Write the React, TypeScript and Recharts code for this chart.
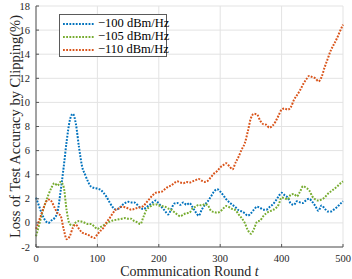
import React from "react";
import { LineChart, Line, XAxis, YAxis, CartesianGrid, Label } from "recharts";

const rounds = [
  0, 5, 10, 15, 20, 25, 30, 35, 40, 45, 50, 55, 60, 65, 70, 75, 80, 85, 90, 95,
  100, 105, 110, 115, 120, 125, 130, 135, 140, 145, 150, 155, 160, 165, 170, 175, 180, 185, 190, 195,
  200, 205, 210, 215, 220, 225, 230, 235, 240, 245, 250, 255, 260, 265, 270, 275, 280, 285, 290, 295,
  300, 305, 310, 315, 320, 325, 330, 335, 340, 345, 350, 355, 360, 365, 370, 375, 380, 385, 390, 395,
  400, 405, 410, 415, 420, 425, 430, 435, 440, 445, 450, 455, 460, 465, 470, 475, 480, 485, 490, 495, 500,
];

const loss100 = [
  2.1, 1.4, 0.7, 0.2, 0.0, 0.2, 0.4, 0.9, 2.6, 4.6, 6.8, 8.5, 9.05, 8.2, 6.3, 4.7, 4.0, 3.4, 3.0, 2.9,
  2.85, 2.75, 2.5, 2.15, 1.7, 1.3, 1.1, 1.2, 1.45, 1.65, 1.75, 1.7, 1.7, 1.5, 1.25, 1.15, 1.3, 1.5, 1.7, 1.85,
  1.6, 1.3, 1.0, 0.7, 1.1, 1.6, 1.65, 1.5, 1.7, 1.5, 1.65, 1.3, 0.9, 0.6, 1.1, 1.5, 1.8, 2.2, 2.6, 2.8,
  2.6, 2.3, 1.95, 1.7, 1.5, 1.3, 1.05, 0.95, 0.8, 0.6, 0.8, 1.1, 1.35, 1.25, 1.1, 1.1, 1.3, 1.5, 1.8, 2.2,
  2.5, 2.3, 2.1, 1.6, 1.5, 1.8, 1.7, 1.65, 1.9, 2.0, 1.75, 1.4, 1.0, 1.45, 1.2, 0.95, 0.95, 1.1, 1.3, 1.55, 1.8,
];

const loss105 = [
  -1.1, -0.2, 0.8, 1.6, 2.3, 2.9, 3.3, 3.1, 3.4, 3.0, 1.0, -0.1, -0.2, 0.05, 0.15, 0.1, 0.0, -0.1, -0.1, -0.3,
  -0.5, -0.35, -0.2, -0.05, 0.1, 0.2, 0.25, 0.3, 0.35, 0.4, 0.35, 0.35, 0.15, 0.05, -0.1, 0.5, 1.1, 1.3, 1.5, 1.55,
  1.45, 1.4, 1.35, 1.2, 1.1, 0.9, 0.7, 0.55, 0.7, 0.8, 0.85, 1.2, 1.35, 1.5, 1.45, 1.55, 1.45, 1.0, 0.9, 0.85,
  0.95, 1.2, 1.4, 1.3, 1.15, 1.05, 0.7, 0.4, 0.0, -0.6, -0.9, -0.5, 0.1, 0.2, 0.55, 0.8, 0.95, 1.05, 1.2, 1.5,
  2.1, 2.05, 1.95, 2.35, 2.4, 2.2, 2.6, 3.05, 2.9, 2.7, 2.2, 1.95, 1.85, 1.95, 2.1, 2.4, 2.6, 2.8, 3.0, 3.25, 3.45,
];

const loss110 = [
  -0.5, 0.2, 0.9, 1.6, 1.95, 1.8, 1.3, 0.8, 0.6, -0.5, -1.35, -1.1, -0.4, -0.15, -0.5, -0.8, -0.9, -1.0, -1.15, -1.25,
  -0.95, -0.65, -0.4, 0.05, 0.4, 0.8, 1.1, 1.2, 1.35, 1.3, 1.2, 1.1, 1.15, 1.25, 1.3, 1.4, 1.7, 2.0, 2.3, 2.5,
  2.55, 2.6, 2.8, 3.0, 3.1, 3.3, 3.45, 3.35, 3.3, 3.4, 3.35, 3.45, 3.55, 3.65, 3.5, 3.4, 3.5, 3.8, 4.1, 4.3,
  4.6, 4.8, 4.95, 4.7, 4.45, 5.0, 5.5, 6.1, 6.6, 7.6, 8.7, 9.05, 9.0, 8.5, 8.2, 8.15, 7.9, 8.05, 8.4, 8.9,
  9.4, 9.5, 9.4, 9.6, 10.2, 10.6, 11.0, 11.5, 11.9, 12.2, 12.1, 12.0, 11.75, 12.1, 12.9, 13.6, 14.3, 14.8, 15.3, 15.9, 16.45,
];

const xTicks = [0, 100, 200, 300, 400, 500];
const yTicks = [-2, 0, 2, 4, 6, 8, 10, 12, 14, 16, 18];

const seriesNames = ["\u2212100 dBm/Hz", "\u2212105 dBm/Hz", "\u2212110 dBm/Hz"];
const seriesKeys = ["s100", "s105", "s110"];
const seriesColors = ["#0072BD", "#77AC30", "#D95319"];

const data = rounds.map((t, i) => ({
  t,
  s100: loss100[i],
  s105: loss105[i],
  s110: loss110[i],
}));

const FONT = "'Liberation Serif', 'DejaVu Serif', serif";
const DASH = "1.8 1.4";
const TICK_FONT = 10.5;
const Y_MARGIN = 6;
const X_MARGIN = 7;
const TICK_LEN = 3;

const LegendBox = () => (
  <div
    style={{
      position: "absolute",
      left: 59,
      top: 14,
      border: "1px solid #5a5a5a",
      background: "#fff",
      width: 108,
      height: 43,
      boxSizing: "border-box",
      paddingTop: 2,
      fontFamily: FONT,
      fontSize: 12.5,
      color: "#000",
    }}
  >
    {seriesNames.map((n, i) => (
      <div key={n} style={{ display: "flex", alignItems: "center", height: 13, lineHeight: "13px" }}>
        <svg width={38} height={6} style={{ flex: "none" }}>
          <line x1={3} y1={3} x2={35} y2={3} stroke={seriesColors[i]} strokeWidth={2} strokeDasharray={DASH} />
        </svg>
        <span style={{ whiteSpace: "nowrap" }}>{n}</span>
      </div>
    ))}
  </div>
);

const YTick = (props: any) => {
  const { x, y, payload } = props;
  const ax = x + Y_MARGIN;
  return (
    <g>
      <line x1={ax} y1={y} x2={ax + TICK_LEN} y2={y} stroke="#555" strokeWidth={1} />
      <text x={x} y={y} textAnchor="end" dominantBaseline="central" fontFamily={FONT} fontSize={TICK_FONT} fill="#262626">
        {payload.value}
      </text>
    </g>
  );
};

const XTick = (props: any) => {
  const { x, y, payload } = props;
  const ay = y - X_MARGIN;
  return (
    <g>
      <line x1={x} y1={ay} x2={x} y2={ay - TICK_LEN} stroke="#555" strokeWidth={1} />
      <text x={x} y={y + 4} textAnchor="middle" dominantBaseline="central" fontFamily={FONT} fontSize={TICK_FONT} fill="#262626">
        {payload.value}
      </text>
    </g>
  );
};

const YLabel = (props: any) => {
  const vb = props.viewBox;
  const cx = 15;
  const cy = vb.y + vb.height / 2;
  return (
    <text
      x={cx}
      y={cy}
      transform={`rotate(-90 ${cx} ${cy})`}
      textAnchor="middle"
      dominantBaseline="central"
      fontFamily={FONT}
      fontSize={14.5}
      fill="#262626"
    >
      Loss of Test Accuracy by Clipping(%)
    </text>
  );
};

const XLabel = (props: any) => {
  const vb = props.viewBox;
  return (
    <text
      x={vb.x + vb.width / 2}
      y={vb.y + 29}
      textAnchor="middle"
      fontFamily={FONT}
      fontSize={14}
      fill="#262626"
    >
      Communication Round <tspan fontStyle="italic">t</tspan>
    </text>
  );
};

export default function App() {
  return (
    <div style={{ position: "absolute", left: 0, top: 0, width: 352, height: 279, background: "#fff" }}>
      <LineChart width={352} height={279} data={data} margin={{ top: 6, right: 9, bottom: 0, left: 0 }}>
        <CartesianGrid stroke="#e3e3e3" strokeWidth={1} horizontalValues={yTicks} verticalValues={xTicks} />
        <XAxis
          dataKey="t"
          type="number"
          domain={[0, 500]}
          ticks={xTicks}
          height={32}
          axisLine={{ stroke: "#555", strokeWidth: 1 }}
          tickLine={false}
          tickSize={0}
          tickMargin={X_MARGIN}
          tick={<XTick />}
          interval={0}
        >
          <Label content={<XLabel />} />
        </XAxis>
        <YAxis
          type="number"
          domain={[-2, 18]}
          ticks={yTicks}
          width={36}
          axisLine={{ stroke: "#555", strokeWidth: 1 }}
          tickLine={false}
          tickSize={0}
          tickMargin={Y_MARGIN}
          tick={<YTick />}
          interval={0}
          allowDataOverflow
        >
          <Label content={<YLabel />} />
        </YAxis>
        {seriesKeys.map((k, i) => (
          <Line
            key={k}
            dataKey={k}
            name={seriesNames[i]}
            type="monotone"
            stroke={seriesColors[i]}
            strokeWidth={2}
            strokeDasharray={DASH}
            dot={false}
            activeDot={false}
            isAnimationActive={false}
          />
        ))}
      </LineChart>
      <LegendBox />
    </div>
  );
}
